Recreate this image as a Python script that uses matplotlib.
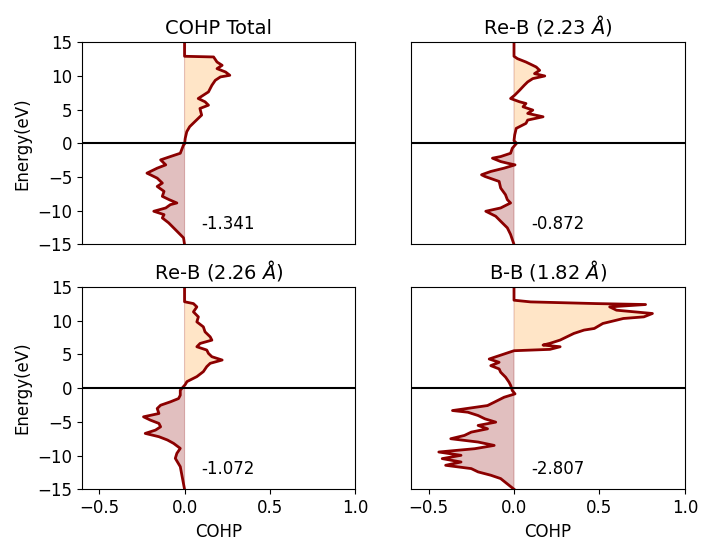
import numpy as np
import matplotlib
matplotlib.use('Agg')
import matplotlib.pyplot as plt

# energies (eV) and COHP values
e_total = [15, 12.9, 12.8, 12.05, 11.56, 11.07, 10.57, 10.08, 9.84, 9.34, 8.6, 7.62, 6.64, 6.15, 5.65,
           5.16, 4.18, 3.2, 2.46, 1.72, 0.74, -0.1, -0.25, -1.48, -1.97, -2.46, -3.2, -3.69, -4.43,
           -4.67, -5.17, -5.9, -6.4, -7.13, -7.87, -8.36, -8.85, -9.1, -9.59, -10.08, -10.58, -11.07,
           -11.8, -12.54, -13.28, -14.02, -15]
c_total = [0, 0, 0.17, 0.19, 0.22, 0.19, 0.24, 0.265, 0.21, 0.18, 0.16, 0.14, 0.08, 0.12, 0.14,
           0.09, 0.10, 0.06, 0.03, 0.013, 0.004, 0, -0.006, -0.025, -0.083, -0.14, -0.11, -0.16, -0.22,
           -0.2, -0.16, -0.13, -0.16, -0.12, -0.13, -0.09, -0.045, -0.083, -0.11, -0.18, -0.12, -0.13,
           -0.093, -0.064, -0.035, -0.006, 0]

e_reb1 = [15, 12.9, 12.55, 12.05, 11.56, 11.31, 10.82, 10.33, 9.98, 9.59, 9.1, 8.6, 7.87, 7.13, 6.64,
          6.15, 5.9, 5.41, 4.92, 4.43, 3.93, 3.44, 2.95, 2.21, 1.23, 0.39, 0, -0.74, -1.48, -1.97, -2.21,
          -2.71, -2.95, -3.2, -3.69, -4.18, -4.67, -4.92, -5.66, -6.64, -7.62, -8.36, -8.85, -9.59,
          -10.08, -10.82, -11.56, -12.54, -13.52, -15]
c_reb1 = [0, 0, 0.02, 0.07, 0.11, 0.13, 0.15, 0.12, 0.18, 0.11, 0.08, 0.06, 0.033, 0.004, -0.02,
          0.033, 0.07, 0.053, 0.11, 0.08, 0.17, 0.08, 0.07, 0.013, 0.004, 0, 0.015, -0.01, -0.02, -0.078,
          -0.126, -0.078, -0.039, 0.006, -0.058, -0.136, -0.19, -0.17, -0.087, -0.078, -0.05, -0.039,
          -0.02, -0.078, -0.165, -0.107, -0.078, -0.039, -0.02, 0]

e_reb2 = [15, 12.8, 12.53, 12.04, 11.3, 10.56, 9.82, 9.08, 8.34, 7.6, 7.11, 6.62, 6.13, 5.64, 5.14,
          4.65, 4.16, 3.67, 3.18, 2.44, 1.7, 0.96, 0.52, -0.32, -1.06, -1.55, -2.04, -2.54, -3.03,
          -3.77, -4.26, -4.75, -5.24, -5.74, -6.23, -6.72, -7.21, -7.7, -8.2, -8.94, -9.68, -10.42,
          -11.65, -15]
c_reb2 = [0, 0, 0.052, 0.072, 0.052, 0.081, 0.072, 0.11, 0.12, 0.15, 0.16, 0.091, 0.072, 0.13, 0.14,
          0.16, 0.22, 0.15, 0.13, 0.11, 0.072, 0.014, 0.004, -0.025, -0.025, -0.035, -0.083, -0.14,
          -0.16, -0.15, -0.24, -0.2, -0.15, -0.14, -0.17, -0.23, -0.15, -0.1, -0.064, -0.025, -0.045,
          -0.054, -0.025, 0]

e_bb = [15, 13.03, 12.78, 12.53, 12.39, 12.04, 11.55, 11.06, 10.56, 10.32, 10.07, 9.58, 8.84, 8.6,
        8.1, 7.61, 7.12, 6.63, 6.38, 6.13, 5.74, 5.54, 5.05, 4.56, 4.31, 3.82, 3.33, 2.84, 2.35, 1.61,
        0.87, 0.37, -0.37, -0.86, -1.36, -2.1, -2.59, -3.08, -3.33, -3.58, -4.07, -4.56, -5.05, -5.54,
        -6.04, -6.53, -7.02, -7.51, -8.0, -8.5, -8.99, -9.48, -9.97, -10.46, -10.96, -11.45, -11.94,
        -12.43, -12.92, -13.42, -15]
c_bb = [0, 0, 0.097, 0.48, 0.77, 0.56, 0.60, 0.81, 0.76, 0.64, 0.60, 0.52, 0.47, 0.41, 0.35, 0.31,
        0.27, 0.21, 0.17, 0.27, 0.21, 0.0, -0.058, -0.116, -0.145, -0.087, -0.136, -0.087, -0.078,
        -0.049, -0.029, -0.019, -0.01, 0.006, -0.058, -0.116, -0.155, -0.29, -0.36, -0.27, -0.21,
        -0.17, -0.107, -0.21, -0.155, -0.25, -0.29, -0.37, -0.21, -0.116, -0.23, -0.44, -0.31, -0.42,
        -0.31, -0.4, -0.25, -0.21, -0.136, -0.078, 0]

titles = ['COHP Total', r'Re-B (2.23 $Å$)', r'Re-B (2.26 $Å$)', r'B-B (1.82 $Å$)']
icohp = ['-1.341', '-0.872', '-1.072', '-2.807']
energies = [e_total, e_reb1, e_reb2, e_bb]
cohps = [c_total, c_reb1, c_reb2, c_bb]

plt.rcParams['xtick.labelsize'] = 12
plt.rcParams['ytick.labelsize'] = 12
plt.rcParams['axes.labelsize'] = 12

fig, axes = plt.subplots(2, 2, figsize=(7.01, 5.4), dpi=100, sharex=True, sharey=True)
fig.subplots_adjust(left=0.117, right=0.977, top=0.922, bottom=0.094, wspace=0.205, hspace=0.21)

for ax, title, lab, e, c in zip(axes.flat, titles, icohp, energies, cohps):
    e = np.array(e)
    c = np.array(c)
    ax.fill_betweenx(e, 0, c, where=c >= 0, interpolate=True, facecolor='darkorange',
                     alpha=0.22, edgecolor='darkred', linewidth=0.8)
    ax.fill_betweenx(e, 0, c, where=c <= 0, interpolate=True, facecolor='darkred',
                     alpha=0.25, edgecolor='darkred', linewidth=0.8)
    ax.plot(c, e, color='darkred', lw=2)
    ax.axhline(0, color='black', lw=1.5)
    ax.text(0.1, -12, lab, fontsize=12, va='center')
    ax.set_title(title, fontsize=14)
    ax.set_xlim(-0.6, 1.0)
    ax.set_ylim(-15, 15)
    ax.set_xticks([-0.5, 0.0, 0.5, 1.0])
    ax.set_yticks([-15, -10, -5, 0, 5, 10, 15])

for ax in axes[:, 0]:
    ax.set_ylabel('Energy(eV)')
for ax in axes[1, :]:
    ax.set_xlabel('COHP')
# no tick marks on the inner edges
for ax in axes[0, :]:
    ax.tick_params(axis='x', bottom=False)
for ax in axes[:, 1]:
    ax.tick_params(axis='y', left=False)

fig.savefig('out.png', dpi=100)
